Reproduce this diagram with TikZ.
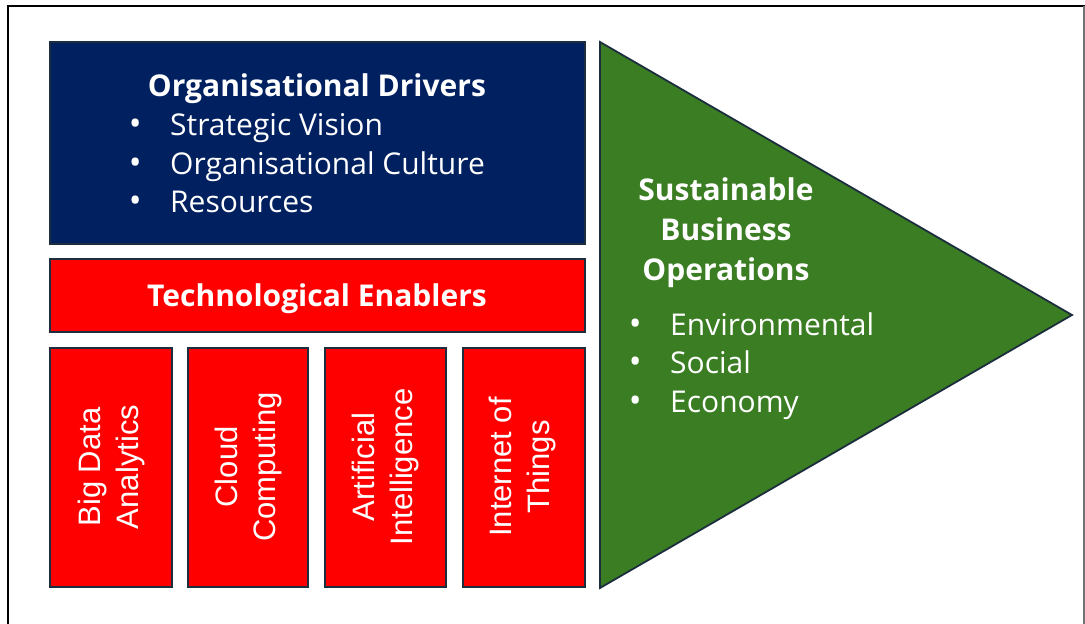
\documentclass[tikz,border=0pt]{standalone}
\usepackage{fontspec}
\setmainfont{Open Sans}
\newfontfamily\sidefont{Liberation Sans}
\newcommand{\listitem}[1]{\makebox[20pt][c]{\fontsize{34}{38.5}\selectfont\textbullet}\hspace{25pt}#1}
\begin{document}
\begin{tikzpicture}[x=1pt,y=1pt,
  panel/.style={draw=edgecol, line width=1.8pt},
  bluepanel/.style={panel, fill=navyfill},
  redpanel/.style={panel, fill=red},
  greenpanel/.style={panel, fill=greenfill, line join=miter},
  headtext/.style={text=white, font=\fontsize{30}{40}\selectfont\bfseries, align=center, inner sep=0pt, anchor=base},
  listtext/.style={text=white, font=\fontsize{30}{38.5}\selectfont, align=left, inner sep=0pt, anchor=base west},
  sidetext/.style={text=white, font=\sidefont\fontsize{31}{38}\selectfont, align=center, inner sep=0pt, rotate=90}
]
\definecolor{navyfill}{HTML}{002060}
\definecolor{greenfill}{HTML}{3A7D22}
\definecolor{edgecol}{HTML}{1C2E3E}
\useasboundingbox (0,0) rectangle (1085,624);
% outer frame
\draw[black, line width=2.2pt] (8,0) -- (8,618) -- (1085,618);
\draw[black!55, line width=1.2pt] (1084,618) -- (1084,0);

% organisational drivers (base anchors sit on the last line)
\draw[bluepanel] (50,582) rectangle (585,380);
\node[headtext] (orgHead) at (317,527.5) {Organisational Drivers};
\node[listtext] (orgList) at (125,411) {%
  \listitem{Strategic Vision}\\
  \listitem{Organisational Culture}\\
  \listitem{Resources}};

% technological enablers
\draw[redpanel] (50,365) rectangle (585,292);
\node[headtext] (techHead) at (317,317.5) {Technological Enablers};

\draw[redpanel] (50,276) rectangle (172,37);
\draw[redpanel] (188,276) rectangle (308,37);
\draw[redpanel] (325,276) rectangle (446,37);
\draw[redpanel] (463,276) rectangle (585,37);
\node[sidetext] (bigData) at (111,157) {Big Data\\Analytics};
\node[sidetext] (cloud) at (248,157) {Cloud\\Computing};
\node[sidetext] (ai) at (385,157) {Artificial\\Intelligence};
\node[sidetext] (iot) at (522,157) {Internet of\\Things};

% sustainable business operations
\draw[greenpanel] (600,582) -- (1072,309) -- (600,36) -- cycle;
\node[headtext] (sboHead) at (726,343) {Sustainable\\Business\\Operations};
\node[listtext] (sboList) at (625,211.5) {%
  \listitem{Environmental}\\
  \listitem{Social}\\
  \listitem{Economy}};
\end{tikzpicture}
\end{document}
